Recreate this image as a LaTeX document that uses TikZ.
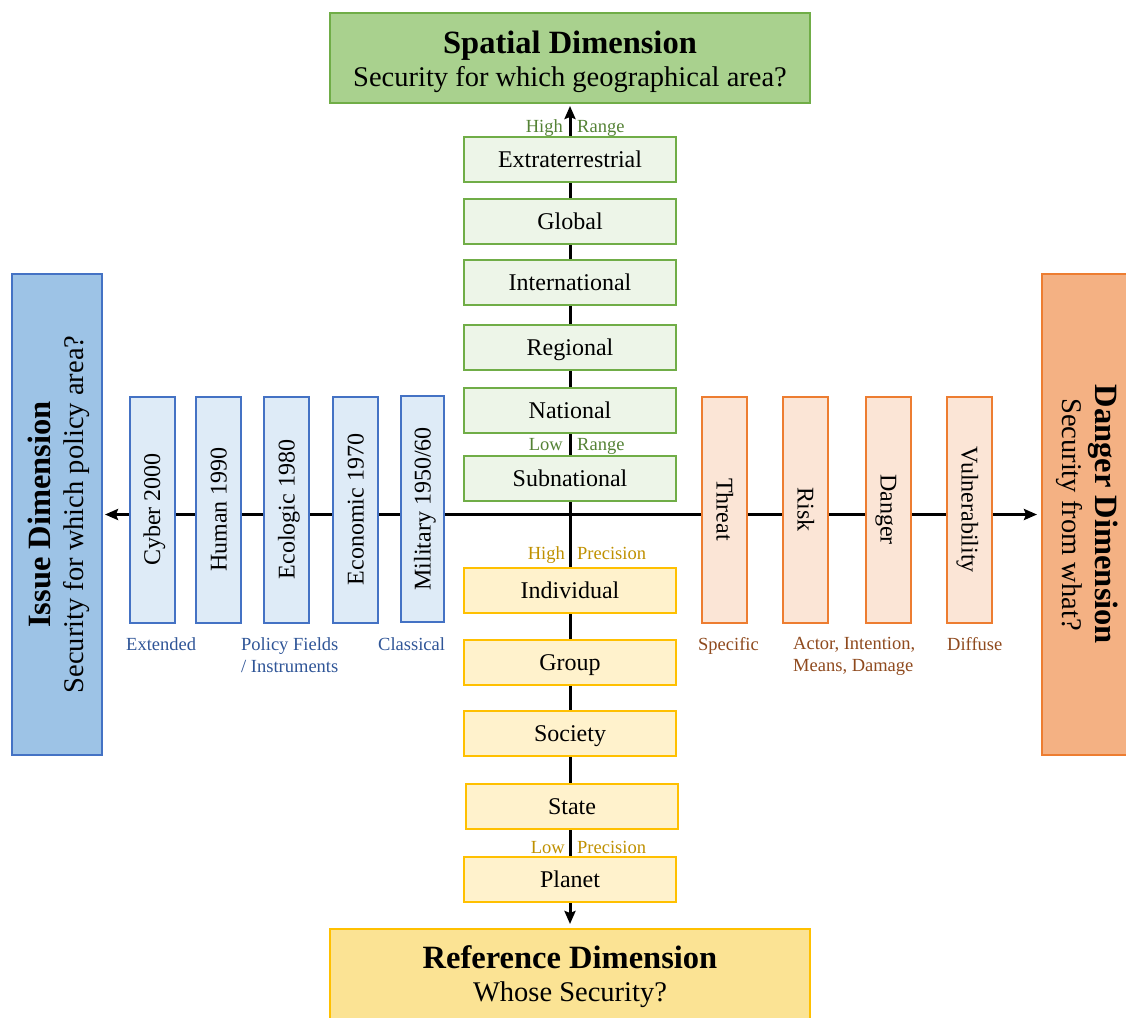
\documentclass[tikz,border=0pt]{standalone}
\usepackage{fontspec}
\setmainfont{Liberation Serif}
\usetikzlibrary{arrows.meta,backgrounds}
\definecolor{grnD}{HTML}{70AD47}
\definecolor{grnM}{HTML}{A9D18E}
\definecolor{grnL}{HTML}{EDF5E8}
\definecolor{grnT}{HTML}{548235}
\definecolor{bluD}{HTML}{4472C4}
\definecolor{bluM}{HTML}{9DC3E6}
\definecolor{bluL}{HTML}{DEEBF7}
\definecolor{bluT}{HTML}{2F5597}
\definecolor{orgD}{HTML}{ED7D31}
\definecolor{orgM}{HTML}{F4B183}
\definecolor{orgL}{HTML}{FBE5D6}
\definecolor{orgT}{HTML}{8F4A1E}
\definecolor{ylwD}{HTML}{FFC000}
\definecolor{ylwM}{HTML}{FBE394}
\definecolor{ylwL}{HTML}{FFF2CC}
\definecolor{ylwT}{HTML}{BF9000}
\newcommand\mybold{\bfseries\fontsize{32.5}{33}\selectfont}
\newcommand\twolines[3]{\raisebox{0pt}[\dimexpr\height+#1\relax][\depth]{\begin{tabular}{@{}c@{}}{\mybold #2}\\#3\end{tabular}}}
\begin{document}
\begin{tikzpicture}[x=1pt,y=-1pt,
  box/.style={draw, line width=2pt, inner sep=0pt, font=\fontsize{24}{28}\selectfont, text=black, text height=17pt, text depth=1pt},
  greenbox/.style={box, draw=grnD, fill=grnL, minimum width=212pt, minimum height=45pt},
  yellowbox/.style={box, draw=ylwD, fill=ylwL, minimum width=212pt, minimum height=45pt},
  bluebox/.style={box, draw=bluD, fill=bluL, minimum width=226pt, minimum height=45pt, rotate=90},
  orangebox/.style={box, draw=orgD, fill=orgL, minimum width=226pt, minimum height=45pt, rotate=-90},
  dimbox/.style={draw, line width=2pt, inner sep=0pt, font=\fontsize{28.5}{33}\selectfont},
  lab/.style={inner sep=0pt, font=\fontsize{18.5}{22}\selectfont, align=left},
  onelab/.style={lab, text height=13pt, text depth=1pt},
  axis/.style={line width=3pt, {Stealth[length=13pt,width=11pt,inset=2pt]}-{Stealth[length=13pt,width=11pt,inset=2pt]}, shorten <=2pt, shorten >=4pt},
]
\useasboundingbox (0,0) rectangle (1126,1017);
\clip (0,0) rectangle (1126,1017);

% dimension boxes
\node[dimbox, draw=grnD, fill=grnM, minimum width=480pt, minimum height=90pt] (spatial) at (570,58)
  {\twolines{10pt}{Spatial Dimension}{Security for which geographical area?}};
\node[dimbox, draw=ylwD, fill=ylwM, minimum width=480pt, minimum height=94pt] (reference) at (570,976)
  {\twolines{4pt}{Reference Dimension}{Whose Security?}};
\node[dimbox, draw=bluD, fill=bluM, minimum width=481pt, minimum height=90pt, rotate=90] (issue) at (57,514.5)
  {\twolines{6pt}{Issue Dimension}{Security for which policy area?}};
\node[dimbox, draw=orgD, fill=orgM, minimum width=481pt, minimum height=94pt, rotate=-90] (danger) at (1089,514.5)
  {\twolines{6pt}{Danger Dimension}{Security from what?}};

% spatial scale
\node[greenbox] (extra) at (570,159.5) {Extraterrestrial};
\node[greenbox] (global) at (570,221) {Global};
\node[greenbox] (inter) at (570,282) {International};
\node[greenbox] (regional) at (570,347) {Regional};
\node[greenbox] (national) at (570,410) {National};
\node[greenbox] (subnat) at (570,478) {Subnational};

% reference scale
\node[yellowbox] (indiv) at (570,590.5) {Individual};
\node[yellowbox] (group) at (570,662) {Group};
\node[yellowbox] (society) at (570,733.5) {Society};
\node[yellowbox] (state) at (572,806.5) {State};
\node[yellowbox] (planet) at (570,879.5) {Planet};

% issue scale
\node[bluebox] (cyber) at (152,509.5) {Cyber 2000};
\node[bluebox] (human) at (218.5,509.5) {Human 1990};
\node[bluebox] (ecologic) at (286.5,509.5) {Ecologic 1980};
\node[bluebox] (economic) at (355.5,509.5) {Economic 1970};
\node[bluebox, minimum height=43pt] (military) at (422.5,509) {Military 1950/60};

% danger scale
\node[orangebox] (threat) at (724.5,509.5) {Threat};
\node[orangebox] (risk) at (805.5,509.5) {Risk};
\node[orangebox] (dangerbox) at (888.5,509.5) {Danger};
\node[orangebox] (vuln) at (969.5,509.5) {Vulnerability};

% axis labels
\node[onelab, text=grnT, anchor=east] (hr1) at (563,126) {High};
\node[onelab, text=grnT, anchor=west] (hr2) at (577,126) {Range};
\node[onelab, text=grnT, anchor=east] (lr1) at (563,444) {Low};
\node[onelab, text=grnT, anchor=west] (lr2) at (577,444) {Range};
\node[onelab, text=ylwT, anchor=east] (hp1) at (565,553) {High};
\node[onelab, text=ylwT, anchor=west] (hp2) at (577,553) {Precision};
\node[onelab, text=ylwT, anchor=east] (lp1) at (565,847) {Low};
\node[onelab, text=ylwT, anchor=west] (lp2) at (577,847) {Precision};

\node[lab, text=bluT, anchor=north west] (ext) at (126,637) {Extended};
\node[lab, text=bluT, anchor=north west] (pol) at (241,637) {Policy Fields\\/ Instruments};
\node[lab, text=bluT, anchor=north west] (cla) at (378,637) {Classical};
\node[lab, text=orgT, anchor=north west] (spe) at (698,637) {Specific};
\node[lab, text=orgT, anchor=north west] (act) at (793,637) {Actor, Intention,\\Means, Damage};
\node[lab, text=orgT, anchor=north west] (dif) at (947,637) {Diffuse};

% axes
\begin{scope}[on background layer]
\draw[axis] (spatial) -- (reference);
\draw[axis] (issue) -- (danger);
\end{scope}
\end{tikzpicture}
\end{document}
